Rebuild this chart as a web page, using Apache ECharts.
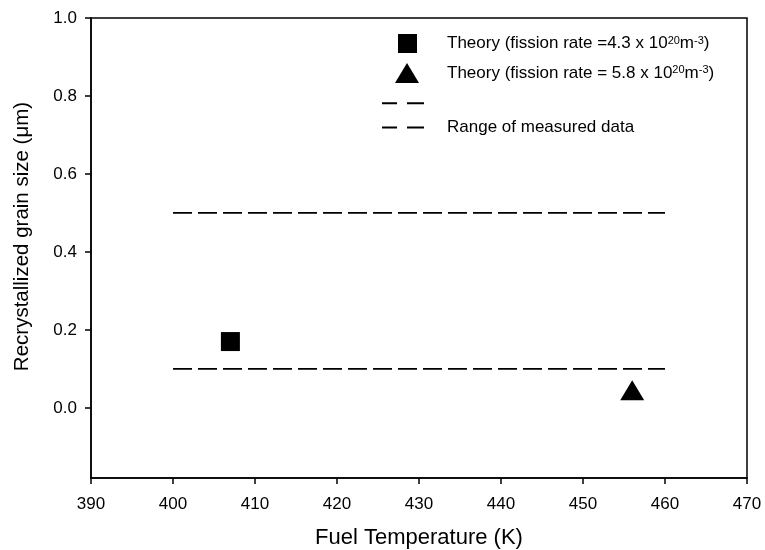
<!DOCTYPE html>
<html>
<head>
<meta charset="utf-8">
<script src="https://cdn.jsdelivr.net/npm/echarts@6/dist/echarts.min.js"></script>
<style>
html, body { margin: 0; padding: 0; background: #fff; }
#chart { width: 765px; height: 550px; }
</style>
</head>
<body>
<div id="chart"></div>
<script>
// theory points (temperature K, grain size um)
var squarePts = [[407, 0.17]];
var trianglePts = [[456, 0.045]];
// range of measured data
var rangeX = [400, 460];
var rangeLow = 0.1;
var rangeHigh = 0.5;

var yTicks = [0, 0.2, 0.4, 0.6, 0.8, 1.0];

var nameSq = 'Theory (fission rate =4.3 x 10{sup|20}m{sup|-3})';
var nameTri = 'Theory (fission rate = 5.8 x 10{sup|20}m{sup|-3})';
var nameHigh = 'upper';
var nameLow = 'Range of measured data';

var font = '"Liberation Sans", Arial, sans-serif';
// two short dashes for the range entries of the key
var dashIcon = 'path://M0,0H15V1H0ZM25,0H42V1H25Z';

function legendAt(name, icon, left, top, w, h, padLeft) {
	return {
		data: [{ name: name, icon: icon }],
		left: left,
		top: top,
		padding: 0,
		itemWidth: w,
		itemHeight: h,
		symbolKeepAspect: false,
		selectedMode: false,
		formatter: function (n) { return n === nameHigh ? '' : n; },
		textStyle: {
			fontFamily: font,
			fontSize: 17,
			color: '#000',
			padding: [0, 0, 0, padLeft],
			rich: {
				sup: { fontSize: 11, verticalAlign: 'top', lineHeight: 11, fontFamily: font, color: '#000' }
			}
		},
		itemStyle: { color: '#000', opacity: 1 }
	};
}

function hline(y) {
	return rangeX.map(function (x) { return [x, y]; });
}

var chart = echarts.init(document.getElementById('chart'));
chart.setOption({
	animation: false,
	grid: {
		left: 91, right: 18, top: 18, bottom: 72,
		outerBoundsMode: 'none',
		show: true, borderColor: '#000', borderWidth: 1.5
	},
	legend: [
		legendAt(nameSq, 'rect', 398, 34, 19, 19, 25),
		legendAt(nameTri, 'triangle', 395, 63, 24, 20, 23),
		legendAt(nameHigh, dashIcon, 382, 102.3, 42, 2, 18),
		legendAt(nameLow, dashIcon, 382, 119, 42, 2, 18)
	],
	xAxis: {
		type: 'value',
		min: 390, max: 470, interval: 10,
		name: 'Fuel Temperature (K)',
		nameLocation: 'middle',
		nameGap: 49,
		nameTextStyle: { fontFamily: font, fontSize: 22, color: '#000' },
		axisLine: { onZero: false, lineStyle: { color: '#000', width: 1.5 } },
		axisTick: { inside: false, length: 6, lineStyle: { color: '#000', width: 1.5 } },
		axisLabel: { margin: 18, fontFamily: font, fontSize: 17, color: '#000' },
		splitLine: { show: false }
	},
	yAxis: {
		type: 'value',
		min: -0.18, max: 1.0,
		name: 'Recrystallized grain size (\u03bcm)',
		nameLocation: 'middle',
		nameGap: 58,
		nameTextStyle: { fontFamily: font, fontSize: 20.5, color: '#000', padding: [0, 0, 0, 23] },
		axisLine: { onZero: false, lineStyle: { color: '#000', width: 1.5 } },
		axisTick: { inside: false, length: 6, customValues: yTicks, lineStyle: { color: '#000', width: 1.5 } },
		axisLabel: {
			margin: 14, fontFamily: font, fontSize: 17, color: '#000',
			customValues: yTicks,
			formatter: function (v) { return v.toFixed(1); }
		},
		splitLine: { show: false }
	},
	series: [
		{
			name: nameSq, type: 'scatter', data: squarePts,
			symbol: 'rect', symbolSize: 19,
			itemStyle: { color: '#000', opacity: 1 }
		},
		{
			name: nameTri, type: 'scatter', data: trianglePts,
			symbol: 'triangle', symbolSize: [24, 20],
			itemStyle: { color: '#000', opacity: 1 }
		},
		{
			name: nameHigh, type: 'line', data: hline(rangeHigh),
			symbol: 'none', lineStyle: { color: '#000', width: 1.8, type: [19, 6] },
			itemStyle: { color: '#000' }
		},
		{
			name: nameLow, type: 'line', data: hline(rangeLow),
			symbol: 'none', lineStyle: { color: '#000', width: 1.8, type: [19, 6] },
			itemStyle: { color: '#000' }
		}
	]
});
</script>
</body>
</html>
